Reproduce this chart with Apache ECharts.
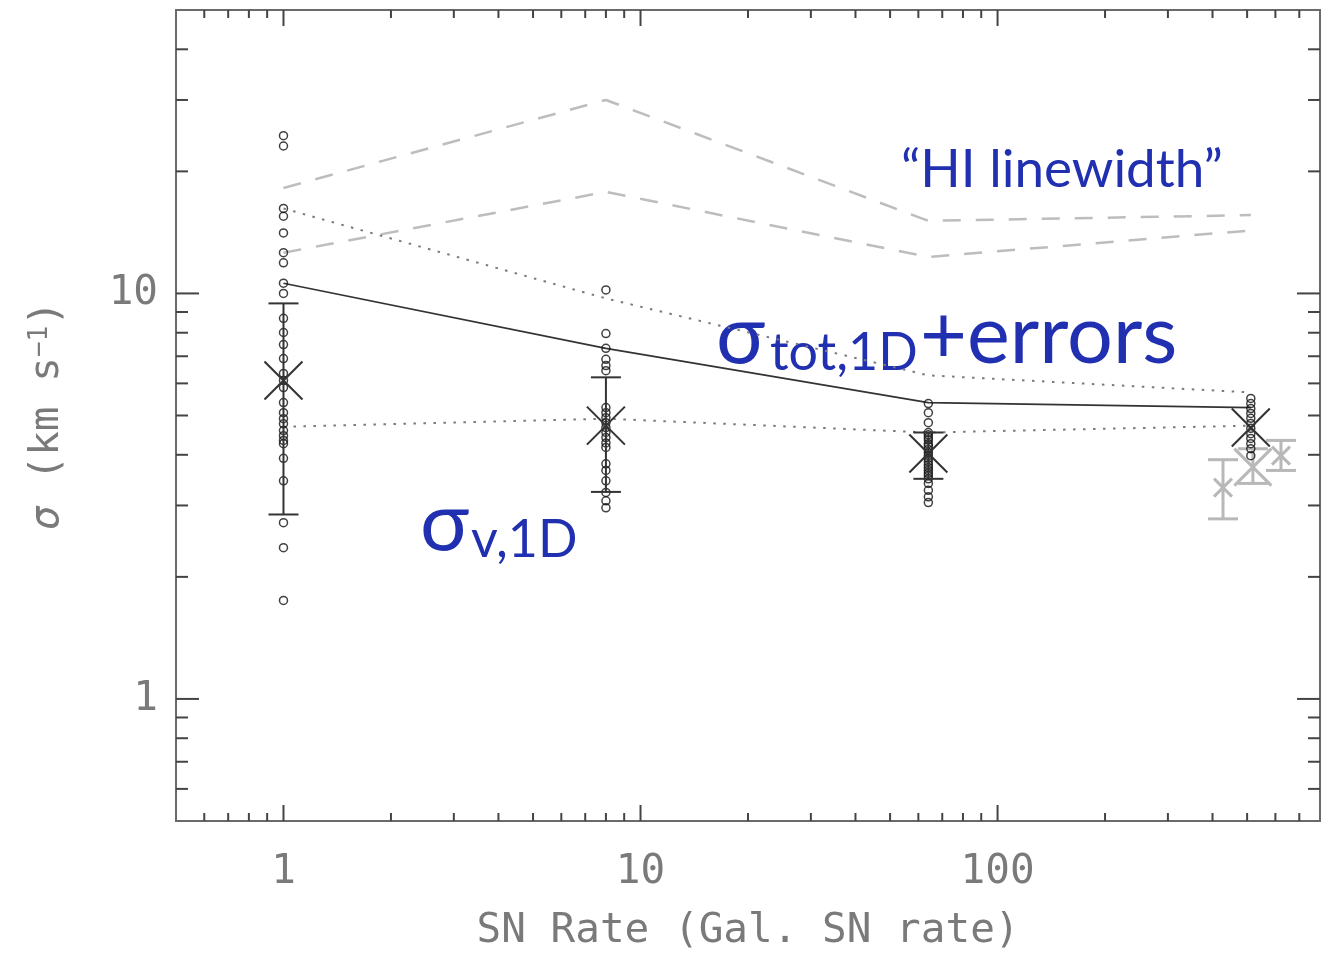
<!DOCTYPE html>
<html>
<head>
<meta charset="utf-8">
<script src="https://cdn.jsdelivr.net/npm/echarts@6/dist/echarts.min.js"></script>
<style>
  html, body { margin: 0; padding: 0; background: #fff; }
  #chart { width: 1332px; height: 958px; }
</style>
</head>
<body>
<div id="chart"></div>
<script>
// Supernova rates of the simulated runs (in units of the Galactic SN rate)
const snRates = [1, 8, 64, 512];

// Velocity dispersion of individual clouds at each SN rate (km/s)
const cloudsRate1 = [24.5, 23.1, 16.2, 15.5, 14.1, 12.6, 11.9, 10.6, 10.0, 8.68, 8.01, 7.48, 6.91,
  6.35, 6.10, 5.86, 5.38, 5.08, 4.91, 4.77, 4.59, 4.46, 4.34, 4.26, 3.92, 3.45, 2.72, 2.36, 1.75];
const cloudsRate8 = [10.2, 7.96, 7.32, 6.88, 6.64, 6.45, 5.23, 5.08, 4.94, 4.80, 4.67, 4.54,
  4.41, 4.28, 4.17, 3.80, 3.66, 3.45, 3.23, 3.08, 2.96];
const cloudsRate64 = [5.35, 5.08, 4.80, 4.54, 4.48, 4.41, 4.35, 4.26, 4.20, 4.12, 4.05, 3.98,
  3.92, 3.85, 3.78, 3.72, 3.66, 3.60, 3.55, 3.49, 3.40, 3.27, 3.15, 3.05];
const cloudsRate512 = [5.51, 5.35, 5.20, 5.06, 4.92, 4.78, 4.65, 4.51, 4.39, 4.26, 4.14, 3.98];

// Mean cloud dispersion and its spread
const meanSigma = [6.10, 4.72, 4.03, 4.67];
const meanLow = [2.85, 3.24, 3.49, null];
const meanHigh = [9.45, 6.21, 4.54, null];

// Total 1D dispersion (solid) with its error envelope (dotted)
const totSigma = [10.6, 7.32, 5.38, 5.23];
const totUpper = [16.2, 9.72, 6.28, 5.70];
const totLower = [4.69, 4.91, 4.54, 4.72];

// HI linewidth range (dashed)
const hiUpper = [18.2, 30.0, 15.1, 15.6];
const hiLower = [12.6, 17.8, 12.3, 14.3];

// Observed values for comparison (grey)
const obsRate = [428, 519, 622];
const obsSigma = [3.32, 3.73, 3.98];
const obsLow = [2.78, 3.40, 3.66];
const obsHigh = [3.89, 4.14, 4.34];
const obsMarker = [18, 37, 18];

// Axis ticks
const xMajorTicks = [1, 10, 100];
const xMinorTicks = [0.6, 0.7, 0.8, 0.9, 2, 3, 4, 5, 6, 7, 8, 9, 20, 30, 40, 50, 60, 70, 80, 90,
  200, 300, 400, 500, 600, 700];
const yMajorTicks = [1, 10];
const yMinorTicks = [0.6, 0.7, 0.8, 0.9, 2, 3, 4, 5, 6, 7, 8, 9, 20, 30, 40];

const AXIS_FONT = '"DejaVu Sans Mono", "Liberation Mono", monospace';
const AXIS_COLOR = '#7a7a7a';
const FRAME_COLOR = '#6a6a6a';
const NOTE_FONT = 'Lato, "Open Sans", sans-serif';
const NOTE_COLOR = '#2030b0';

const pairs = (xs, ys) => xs.map((x, i) => [x, ys[i]]);
const column = (x, ys) => ys.map(y => [x, y]);

function tickLabel(v) {
  const r = Math.round(v);
  return xMajorTicks.concat(yMajorTicks).some(t => Math.abs(v - t) < 1e-6 * t) ? String(r) : '';
}

// ticks on both sides of the frame
function renderXTicks(params, api) {
  const cs = params.coordSys;
  const px = api.coord([api.value(0), 1])[0];
  const len = api.value(1) ? 16 : 8;
  const style = { stroke: '#444', lineWidth: 2 };
  return { type: 'group', children: [
    { type: 'line', shape: { x1: px, y1: cs.y + cs.height, x2: px, y2: cs.y + cs.height - len }, style },
    { type: 'line', shape: { x1: px, y1: cs.y, x2: px, y2: cs.y + len }, style }
  ] };
}
function renderYTicks(params, api) {
  const cs = params.coordSys;
  const py = api.coord([1, api.value(0)])[1];
  const len = api.value(1) ? 23 : 12;
  const style = { stroke: '#444', lineWidth: 2 };
  return { type: 'group', children: [
    { type: 'line', shape: { x1: cs.x, y1: py, x2: cs.x + len, y2: py }, style },
    { type: 'line', shape: { x1: cs.x + cs.width, y1: py, x2: cs.x + cs.width - len, y2: py }, style }
  ] };
}

// error bar with caps and an X marker at the central value
function errorBarRenderer(color, width, capHalf) {
  return function (params, api) {
    const x = api.value(0), y = api.value(1), lo = api.value(2), hi = api.value(3), size = api.value(4);
    const c = api.coord([x, y]);
    const style = { stroke: color, lineWidth: width, fill: null };
    const children = [];
    if (!isNaN(lo) && !isNaN(hi)) {
      const pl = api.coord([x, lo]), ph = api.coord([x, hi]);
      children.push({ type: 'line', shape: { x1: c[0], y1: pl[1], x2: c[0], y2: ph[1] }, style });
      children.push({ type: 'line', shape: { x1: c[0] - capHalf, y1: pl[1], x2: c[0] + capHalf, y2: pl[1] }, style });
      children.push({ type: 'line', shape: { x1: c[0] - capHalf, y1: ph[1], x2: c[0] + capHalf, y2: ph[1] }, style });
    }
    const h = size / 2;
    children.push({ type: 'line', shape: { x1: c[0] - h, y1: c[1] - h, x2: c[0] + h, y2: c[1] + h }, style });
    children.push({ type: 'line', shape: { x1: c[0] - h, y1: c[1] + h, x2: c[0] + h, y2: c[1] - h }, style });
    return { type: 'group', children };
  };
}

const cloudSeries = [[1, cloudsRate1], [8, cloudsRate8], [64, cloudsRate64], [512, cloudsRate512]].map(([x, ys]) => ({
  type: 'scatter',
  data: column(x, ys),
  symbol: 'circle',
  symbolSize: 8,
  itemStyle: { color: 'rgba(0,0,0,0)', borderColor: '#111', borderWidth: 1.5 },
  z: 4
}));

const lineSeries = (data, color, width, type, z) => ({
  type: 'line',
  data,
  symbol: 'none',
  lineStyle: { color, width, type },
  z: z || 2
});

const meanData = snRates.map((x, i) => [x, meanSigma[i], meanLow[i] == null ? NaN : meanLow[i],
  meanHigh[i] == null ? NaN : meanHigh[i], 38]);
const obsData = obsRate.map((x, i) => [x, obsSigma[i], obsLow[i], obsHigh[i], obsMarker[i]]);

const chart = echarts.init(document.getElementById('chart'), null, { renderer: 'canvas' });
chart.setOption({
  animation: false,
  backgroundColor: '#fff',
  grid: { left: 176, right: 12, top: 10, bottom: 137, show: true, borderColor: FRAME_COLOR, borderWidth: 2 },
  xAxis: {
    type: 'log', logBase: 10, min: 0.5, max: 800,
    axisLine: { show: true, lineStyle: { color: FRAME_COLOR, width: 2 } },
    axisTick: { show: false }, splitLine: { show: false }, minorTick: { show: false },
    axisLabel: { formatter: tickLabel, margin: 31, fontFamily: AXIS_FONT, fontSize: 41, color: AXIS_COLOR },
    name: 'SN Rate (Gal. SN rate)', nameLocation: 'middle', nameGap: 90,
    nameTextStyle: { fontFamily: AXIS_FONT, fontSize: 41, color: AXIS_COLOR }
  },
  yAxis: {
    type: 'log', logBase: 10, min: 0.5, max: 50,
    axisLine: { show: true, lineStyle: { color: FRAME_COLOR, width: 2 } },
    axisTick: { show: false }, splitLine: { show: false }, minorTick: { show: false },
    axisLabel: { formatter: tickLabel, margin: 18, fontFamily: AXIS_FONT, fontSize: 41, color: AXIS_COLOR },
    name: '{s|σ} (km s{p|−1})', nameLocation: 'middle', nameGap: 108, nameRotate: 90,
    nameTextStyle: {
      fontFamily: AXIS_FONT, fontSize: 41, color: AXIS_COLOR,
      rich: {
        s: { fontFamily: AXIS_FONT, fontStyle: 'italic', fontSize: 41, color: AXIS_COLOR },
        p: { fontFamily: AXIS_FONT, fontSize: 26, color: AXIS_COLOR, verticalAlign: 'top' }
      }
    }
  },
  series: [
    { type: 'custom', renderItem: renderXTicks, data: xMajorTicks.map(v => [v, 1]).concat(xMinorTicks.map(v => [v, 0])), clip: false, silent: true, z: 6 },
    { type: 'custom', renderItem: renderYTicks, data: yMajorTicks.map(v => [v, 1]).concat(yMinorTicks.map(v => [v, 0])), clip: false, silent: true, z: 6 },
    lineSeries(pairs(snRates, hiUpper), '#bdbdbd', 2.5, [18, 15]),
    lineSeries(pairs(snRates, hiLower), '#bdbdbd', 2.5, [18, 15]),
    lineSeries(pairs(snRates, totUpper), '#7a7a7a', 2, [2.5, 7.5]),
    lineSeries(pairs(snRates, totLower), '#7a7a7a', 2, [2.5, 7.5]),
    lineSeries(pairs(snRates, totSigma), '#333', 1.6, 'solid', 3),
    ...cloudSeries,
    { type: 'custom', renderItem: errorBarRenderer('#b8b8b8', 3, 15), data: obsData, clip: false, silent: true, z: 3 },
    { type: 'custom', renderItem: errorBarRenderer('#333', 2, 15), data: meanData, clip: false, silent: true, z: 5 }
  ],
  graphic: [
    { type: 'text', left: 716, top: 296, style: { text: 'σ', font: '82px ' + NOTE_FONT, fill: NOTE_COLOR } },
    { type: 'text', left: 770, top: 327, style: { text: 'tot,1D', font: '52px ' + NOTE_FONT, fill: NOTE_COLOR } },
    { type: 'text', left: 920, top: 296, style: { text: '+errors', font: '81px ' + NOTE_FONT, fill: NOTE_COLOR } },
    { type: 'text', left: 420, top: 483, style: { text: 'σ', font: '82px ' + NOTE_FONT, fill: NOTE_COLOR } },
    { type: 'text', left: 471, top: 514, style: { text: 'v,1D', font: '52px ' + NOTE_FONT, fill: NOTE_COLOR } },
    { type: 'text', left: 901, top: 143, style: { text: '“HI linewidth”', font: '53px ' + NOTE_FONT, fill: NOTE_COLOR } }
  ]
});
</script>
</body>
</html>
